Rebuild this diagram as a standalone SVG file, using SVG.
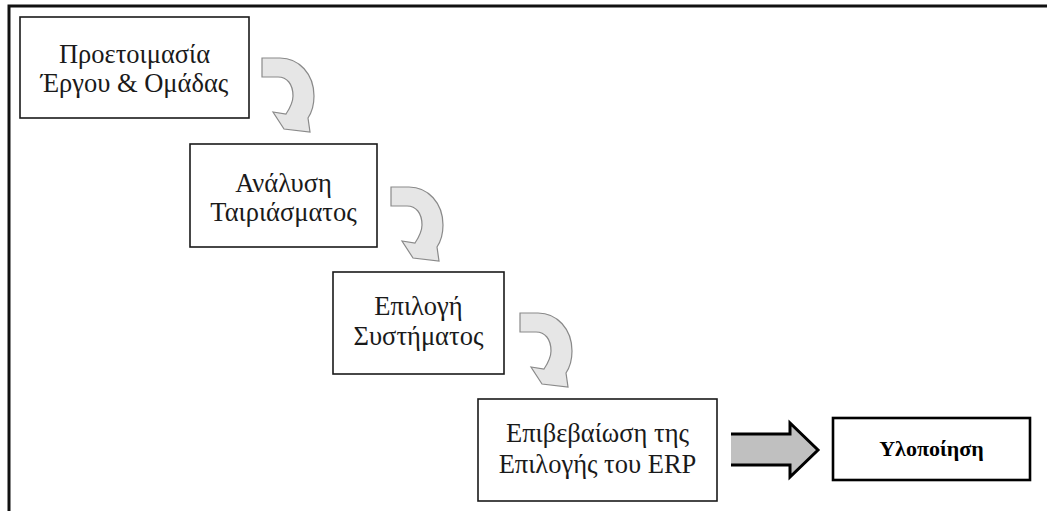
<svg xmlns="http://www.w3.org/2000/svg" width="1047" height="511" viewBox="0 0 1047 511">
<style>
.box{fill:#fff;stroke:#1a1a1a;stroke-width:1.6}
.bold{fill:#fff;stroke:#000;stroke-width:2.6}
text{font-family:"Liberation Serif","DejaVu Serif","Times New Roman",serif}
.t{font-size:26.5px;fill:#1a1a1a;text-anchor:middle}
.tb{font-size:22px;font-weight:bold;fill:#000;text-anchor:middle}
.curve{fill:#e6e6e6;stroke:#8a8a8a;stroke-width:1.2;stroke-linejoin:miter}
</style>
<defs>
<path id="carrow" class="curve" d="M0,0 L18,0 C37,0 52,16 52,38 C52,47 50,54 46,60 L48,74 L22,71 L11,54 L24,56 C28,50 31,44 31,38 C31,26 25,19 16,19 L0,19 Z"/>
</defs>
<g id="frame">
<path d="M9,511 L9,6 L1047,6" fill="none" stroke="#111" stroke-width="3"/>
</g>
<g id="node1">
<rect class="box" x="20" y="17" width="229" height="101"/>
<text class="t" x="134.5" y="63">Προετοιμασία</text>
<text class="t" x="134.5" y="92">Έργου &amp; Ομάδας</text>
</g>
<g id="node2">
<rect class="box" x="190" y="144" width="187" height="103"/>
<text class="t" x="283.5" y="192">Ανάλυση</text>
<text class="t" x="283.5" y="221">Ταιριάσματος</text>
</g>
<g id="node3">
<rect class="box" x="333" y="272" width="171" height="102"/>
<text class="t" x="418.5" y="315">Επιλογή</text>
<text class="t" x="418.5" y="345">Συστήματος</text>
</g>
<g id="node4">
<rect class="box" x="478" y="399" width="239" height="102"/>
<text class="t" x="597.5" y="442">Επιβεβαίωση της</text>
<text class="t" x="597.5" y="473">Επιλογής του ERP</text>
</g>
<g id="node5">
<rect class="bold" x="833" y="418" width="197" height="62"/>
<text class="tb" x="931.5" y="456">Υλοποίηση</text>
</g>
<g id="connectors">
<use href="#carrow" x="262" y="58"/>
<use href="#carrow" x="391" y="187"/>
<use href="#carrow" x="520" y="313"/>
<polygon points="731,434 790,434 790,423 818,450 790,477 790,465 731,465" fill="#c0c0c0"/>
<polyline points="731,434 790,434 790,423 818,450 790,477 790,465 731,465" fill="none" stroke="#000" stroke-width="3" stroke-linejoin="miter"/>
</g>
</svg>
